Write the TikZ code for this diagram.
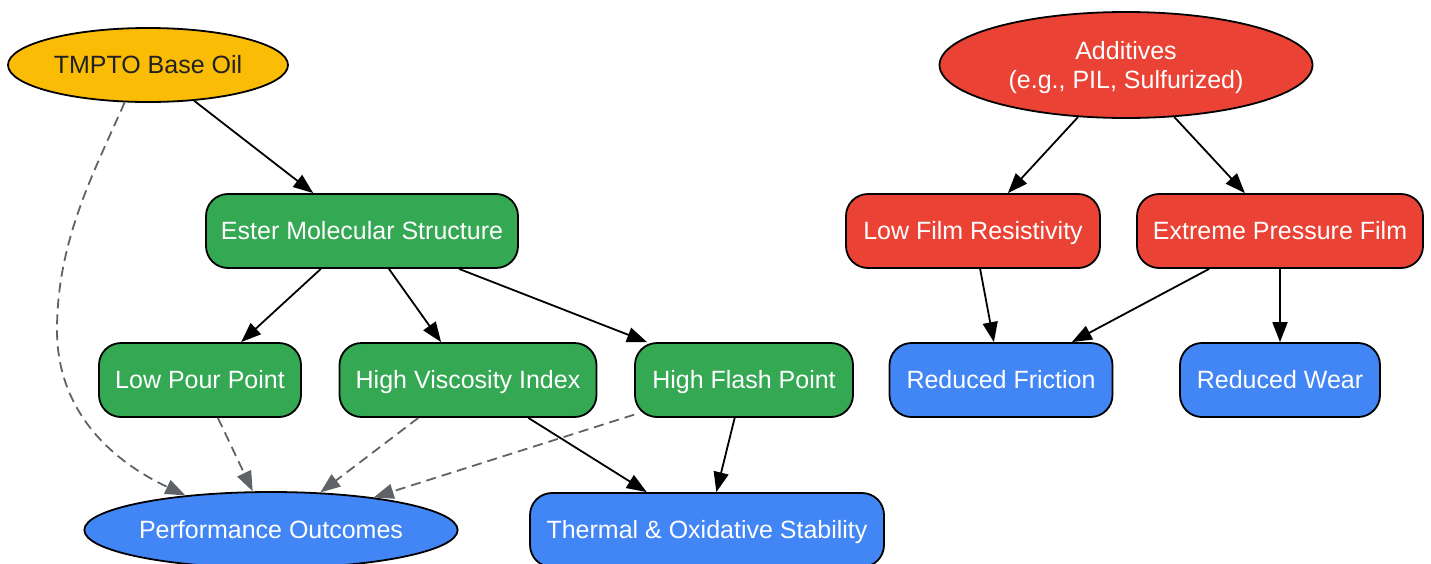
\documentclass[tikz,border=0pt]{standalone}
\usepackage{fontspec}
\setmainfont{Liberation Sans}
\usetikzlibrary{arrows.meta,shapes.geometric}
\definecolor{oilyellow}{HTML}{FBBC05}
\definecolor{estergreen}{HTML}{34A853}
\definecolor{addred}{HTML}{EA4335}
\definecolor{outblue}{HTML}{4285F4}
\definecolor{hintgray}{HTML}{5F6368}
\definecolor{darktext}{HTML}{202124}
\tikzset{
  oneline/.style={text height=20pt, text depth=3pt},
  box/.style={draw=black, line width=1.8pt, rounded corners=22pt, minimum height=74pt,
    inner sep=0pt, text=white, oneline, font=\fontsize{25}{29}\selectfont},
  oval/.style={ellipse, draw=black, line width=1.8pt, inner sep=0pt, align=center,
    text=white, font=\fontsize{25}{29}\selectfont},
  link/.style={line width=1.8pt, -{Triangle[length=20pt,width=15pt]}},
  hint/.style={link, hintgray, dash pattern=on 10pt off 6pt},
}

\begin{document}
\begin{tikzpicture}[x=1pt,y=-1pt]
\useasboundingbox (0,0) rectangle (1431,563);
%
\node[oval, oneline, fill=oilyellow, text=darktext, minimum width=280pt, minimum height=74pt] (tmpto) at (148,65) {TMPTO Base Oil};
\node[box, fill=estergreen, minimum width=312pt] (ester) at (362,231) {Ester Molecular Structure};
\node[box, fill=estergreen, minimum width=202pt] (pour) at (200,380) {Low Pour Point};
\node[box, fill=estergreen, minimum width=257pt] (visc) at (468,380) {High Viscosity Index};
\node[box, fill=estergreen, minimum width=218pt] (flash) at (744,380) {High Flash Point};
\node[oval, oneline, fill=outblue, minimum width=372pt, minimum height=76pt] (perf) at (271,530) {Performance Outcomes};
\node[box, fill=outblue, minimum width=354pt] (thermal) at (707,530) {Thermal \& Oxidative Stability};
%
\node[oval, fill=addred, minimum width=373pt, minimum height=106pt] (additives) at (1126,65) {};
\node[align=center, text=white, font=\fontsize{25}{29}\selectfont] (additivestext) at (1126,68) {Additives\\(e.g., PIL, Sulfurized)};
\node[box, fill=addred, minimum width=254pt] (film) at (973,231) {Low Film Resistivity};
\node[box, fill=addred, minimum width=286pt] (ep) at (1280,231) {Extreme Pressure Film};
\node[box, fill=outblue, minimum width=223pt] (friction) at (1001,380) {Reduced Friction};
\node[box, fill=outblue, minimum width=200pt] (wear) at (1280,380) {Reduced Wear};
%
\draw[link] (tmpto) -- (ester);
\draw[link] (ester) -- (pour);
\draw[link] (ester) -- (visc);
\draw[link] (ester) -- (flash);
\draw[link] (visc) -- (thermal);
\draw[link] (flash) -- (thermal);
%
\draw[hint] (tmpto.238) .. controls (95,170) and (57,240) .. (57,330)
  .. controls (57,410) and (110,460) .. (perf.158);
\draw[hint] (pour) -- (perf);
\draw[hint] (visc) -- (perf);
\draw[hint] (flash) -- (perf);
%
\draw[link] (additives) -- (film);
\draw[link] (additives) -- (ep);
\draw[link] (film) -- (friction);
\draw[link] (ep) -- (friction);
\draw[link] (ep) -- (wear);
\end{tikzpicture}
\end{document}
